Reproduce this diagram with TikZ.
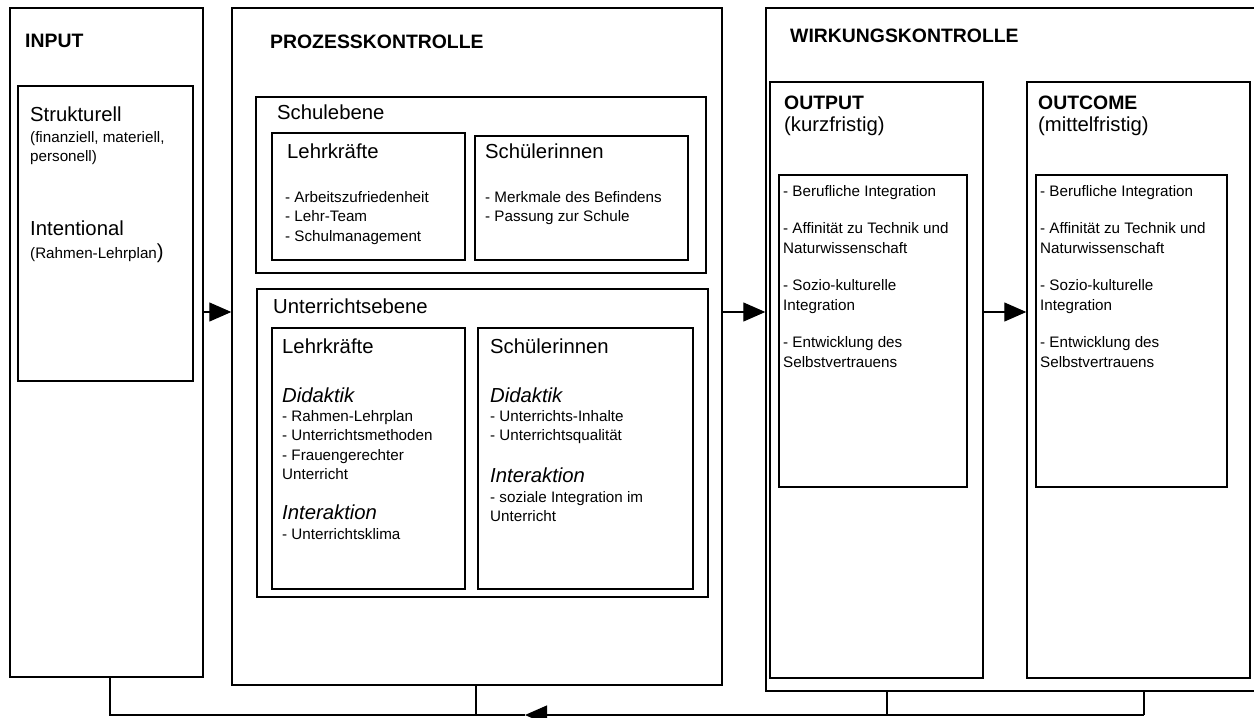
\documentclass[tikz,border=0pt]{standalone}
\usepackage{fontspec}
\setmainfont{Liberation Sans}
\usetikzlibrary{arrows.meta,fit}
\newcommand\mlines[1]{\begin{tabular}[t]{@{}l@{}}#1\end{tabular}}
\begin{document}
\begin{tikzpicture}[x=1pt,y=-1pt,
  box/.style={draw, line width=1.4pt, inner sep=0pt},
  txt/.style={inner sep=0pt, anchor=base west},
  hd/.style={txt, font=\fontsize{19.4}{23}\selectfont\bfseries},
  md/.style={txt, font=\fontsize{20.3}{24}\selectfont},
  it/.style={txt, font=\fontsize{20.3}{24}\selectfont\itshape},
  sm/.style={txt, font=\fontsize{15.2}{19.5}\selectfont},
  arr/.style={line width=1.2pt, -{Triangle[length=22pt,width=19pt]}},
  con/.style={line width=1.2pt}]
\useasboundingbox (0,0) rectangle (1254,718);

% boxes
\node[box, fit={(10,8) (203,677)}] (input) {};
\node[box, fit={(18,86) (193,381)}] (inputIn) {};
\node[box, fit={(232,8) (722,685)}] (prozess) {};
\node[box, fit={(256,97) (706,273)}] (schule) {};
\node[box, fit={(272,133) (465,260)}] (slehr) {};
\node[box, fit={(475,136) (688,260)}] (sschu) {};
\node[box, fit={(257,289) (708,597)}] (unter) {};
\node[box, fit={(272,328) (465,589)}] (ulehr) {};
\node[box, fit={(478,328) (693,589)}] (uschu) {};
\node[box, fit={(766,8) (1262,691)}] (wirk) {};
\node[box, fit={(770,82) (983,678)}] (output) {};
\node[box, fit={(779,175) (967,487)}] (outIn) {};
\node[box, fit={(1027,82) (1250,678)}] (outcome) {};
\node[box, fit={(1036,175) (1227,487)}] (outcIn) {};

% headings
\node[hd] (tInput) at (25,47) {INPUT};
\node[hd] (tProz) at (270,48) {PROZESSKONTROLLE};
\node[hd] (tWirk) at (790,42) {WIRKUNGSKONTROLLE};

% input texts
\node[md] (tStrukt) at (30,121) {Strukturell};
\node[sm] (tStruktSub) at (30,142) {\mlines{(finanziell, materiell,\\personell)}};
\node[md] (tIntent) at (30,235) {Intentional};
\node[sm] (tIntentSub) at (30,258) {(Rahmen-Lehrplan{\fontsize{20.3}{24}\selectfont)}};

% Schulebene
\node[md] (tSchule) at (277,119) {Schulebene};
\node[md] (tSL) at (287,158) {Lehrkräfte};
\node[sm] (tSLi) at (285,202) {\mlines{- Arbeitszufriedenheit\\- Lehr-Team\\- Schulmanagement}};
\node[md] (tSS) at (485,158) {Schülerinnen};
\node[sm] (tSSi) at (485,202) {\mlines{- Merkmale des Befindens\\- Passung zur Schule}};

% Unterrichtsebene
\node[md] (tUnter) at (273,313) {Unterrichtsebene};
\node[md] (tUL) at (282,353) {Lehrkräfte};
\node[it] (tULd) at (282,402) {Didaktik};
\node[sm] (tULdi) at (282,421) {\mlines{- Rahmen-Lehrplan\\- Unterrichtsmethoden\\- Frauengerechter\\Unterricht}};
\node[it] (tULi) at (282,519) {Interaktion};
\node[sm] (tULii) at (282,539) {- Unterrichtsklima};
\node[md] (tUS) at (490,353) {Schülerinnen};
\node[it] (tUSd) at (490,402) {Didaktik};
\node[sm] (tUSdi) at (490,421) {\mlines{- Unterrichts-Inhalte\\- Unterrichtsqualität}};
\node[it] (tUSi) at (490,482) {Interaktion};
\node[sm] (tUSii) at (490,502) {\mlines{- soziale Integration im\\Unterricht}};

% Output / Outcome
\node[hd] (tOut) at (784,109) {OUTPUT};
\node[md] (tOutS) at (784,131) {(kurzfristig)};
\node[sm] (tOutI) at (783,196) {\mlines{- Berufliche Integration\\[18pt]- Affinität zu Technik und\\Naturwissenschaft\\[18pt]- Sozio-kulturelle\\Integration\\[18pt]- Entwicklung des\\Selbstvertrauens}};
\node[hd] (tOc) at (1038,109) {OUTCOME};
\node[md] (tOcS) at (1038,131) {(mittelfristig)};
\node[sm] (tOcI) at (1040,196) {\mlines{- Berufliche Integration\\[18pt]- Affinität zu Technik und\\Naturwissenschaft\\[18pt]- Sozio-kulturelle\\Integration\\[18pt]- Entwicklung des\\Selbstvertrauens}};

% arrows
\coordinate (ay) at (0,312);
\draw[arr] (input.east |- ay) -- (prozess.west |- ay);
\draw[arr] (prozess.east |- ay) -- (wirk.west |- ay);
\draw[arr] (output.east |- ay) -- (outcome.west |- ay);

% feedback
\coordinate (fbL) at (110,715);
\coordinate (fbP) at (476,715);
\coordinate (fbA) at (525,715);
\coordinate (fbO) at (887,715);
\coordinate (fbR) at (1144,715);
\draw[con] (input.south -| fbL) -- (fbL) -- (fbA);
\draw[arr] (fbR) -- (fbA);
\draw[con] (prozess.south -| fbP) -- (fbP);
\draw[con] (wirk.south -| fbO) -- (fbO);
\draw[con] (wirk.south -| fbR) -- (fbR);
\end{tikzpicture}
\end{document}
